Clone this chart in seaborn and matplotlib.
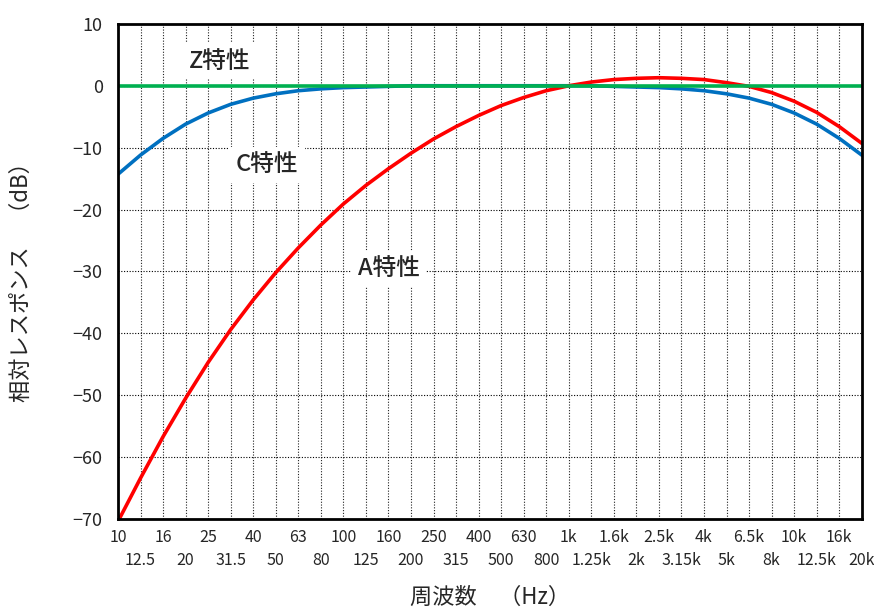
import matplotlib
matplotlib.use("Agg")
import matplotlib.pyplot as plt
import seaborn as sns
import pandas as pd
import numpy as np

# 1/3 octave band centre labels
bands = ["10", "12.5", "16", "20", "25", "31.5", "40", "50", "63", "80",
         "100", "125", "160", "200", "250", "315", "400", "500", "630", "800",
         "1k", "1.25k", "1.6k", "2k", "2.5k", "3.15k", "4k", "5k", "6.5k", "8k",
         "10k", "12.5k", "16k", "20k"]

# Relative response (dB) per band
a_weight = [-70.4, -63.4, -56.7, -50.5, -44.7, -39.4, -34.6, -30.2, -26.2, -22.5,
            -19.1, -16.1, -13.4, -10.9, -8.6, -6.6, -4.8, -3.2, -1.9, -0.8,
            0.0, 0.6, 1.0, 1.2, 1.3, 1.2, 1.0, 0.5, -0.1, -1.1,
            -2.5, -4.3, -6.6, -9.3]
c_weight = [-14.3, -11.2, -8.5, -6.2, -4.4, -3.0, -2.0, -1.3, -0.8, -0.5,
            -0.3, -0.2, -0.1, 0.0, 0.0, 0.0, 0.0, 0.0, 0.0, 0.0,
            0.0, 0.0, -0.1, -0.2, -0.3, -0.5, -0.8, -1.3, -2.0, -3.0,
            -4.4, -6.2, -8.5, -11.2]
z_weight = [0.0] * len(bands)

y_ticks = [10, 0, -10, -20, -30, -40, -50, -60, -70]

sns.set_theme(style="white")
plt.rcParams["font.family"] = ["Noto Sans CJK JP", "DejaVu Sans"]

pos = np.arange(len(bands))
df = pd.DataFrame({
    "pos": np.tile(pos, 3),
    "dB": a_weight + c_weight + z_weight,
    "curve": ["A"] * len(bands) + ["C"] * len(bands) + ["Z"] * len(bands),
})

fig = plt.figure(figsize=(8.74, 6.12), dpi=100)
ax = fig.add_axes([0.135, 0.152, 0.851, 0.809])

palette = {"A": "#FF0000", "C": "#0070C0", "Z": "#00B050"}
sns.lineplot(data=df, x="pos", y="dB", hue="curve", palette=palette,
             hue_order=["C", "A", "Z"], linewidth=2.6, ax=ax, legend=False)

ax.set_xlim(0, len(bands) - 1)
ax.set_ylim(-70, 10)

# grid: dotted lines at every band and every 10 dB
for p in pos[1:-1]:
    ax.axvline(p, color="#222222", linestyle=(0, (1, 1.5)), linewidth=0.8, zorder=0.5)
for yv in y_ticks[1:-1]:
    ax.axhline(yv, color="black", linestyle=(0, (1, 1.5)), linewidth=0.8, zorder=0.5)

# two-row band labels
ax.set_xticks(pos[0::2])
ax.set_xticklabels(bands[0::2])
ax.set_xticks(pos[1::2], minor=True)
ax.set_xticklabels(bands[1::2], minor=True)
ax.tick_params(axis="x", which="major", length=0, pad=7, labelsize=11.5)
ax.tick_params(axis="x", which="minor", length=0, pad=24, labelsize=11.5)

ax.set_yticks(y_ticks)
ax.set_yticklabels([str(v).replace("-", "\u2212") for v in y_ticks])
ax.tick_params(axis="y", length=0, pad=11, labelsize=13)

ax.set_xlabel("周波数　（Hz）", fontsize=16, labelpad=12)
ax.set_ylabel("相対レスポンス　（dB）", fontsize=16, labelpad=14)
ax.yaxis.set_label_coords(-0.115, 0.49)

for s in ax.spines.values():
    s.set_color("black")
    s.set_linewidth(2)
    s.set_visible(True)

box = dict(facecolor="white", edgecolor="none", pad=5)
lbl = dict(fontsize=17, ha="center", va="center", bbox=box, zorder=1, fontweight="medium")
ax.text(pos[0] + 4.5, 4.0, "Z特性", **lbl)
ax.text(pos[0] + 6.6, -12.8, "C特性", **lbl)
ax.text(pos[0] + 12.0, -29.6, "A特性", **lbl)

fig.savefig("out.png", dpi=100)
